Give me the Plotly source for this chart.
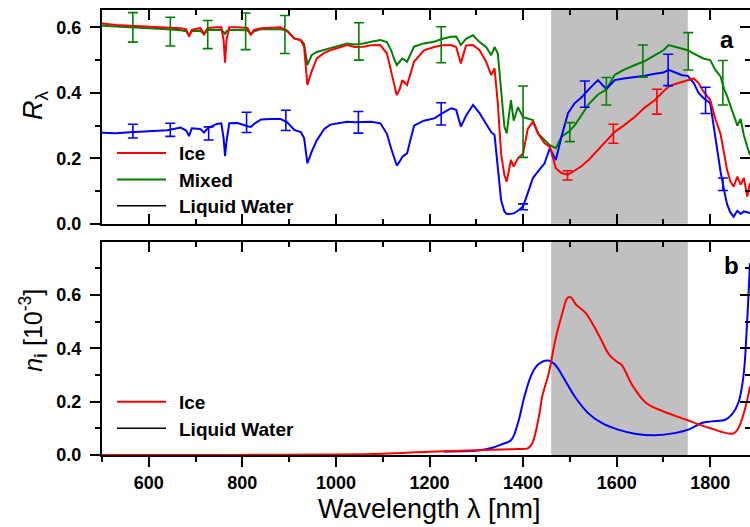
import plotly.graph_objects as go

# ---------------- Top panel (reflectance) ----------------
lam_top = [500, 530, 560, 600, 640, 668, 680, 686, 692, 710, 718, 726, 745, 755, 760, 763, 766, 772,
           790, 811, 818, 825, 840, 860, 882, 896, 911, 925, 932, 939, 948, 959, 975, 988, 1005, 1024,
           1040, 1059, 1075, 1095, 1109, 1118, 1124, 1130, 1136, 1142, 1152, 1167, 1188, 1210, 1228,
           1246, 1257, 1267, 1278, 1293, 1307, 1321, 1332, 1339, 1346, 1353, 1360, 1365, 1374, 1380,
           1389, 1400, 1410, 1421, 1432, 1446, 1457, 1470, 1482, 1496, 1510, 1524, 1540, 1560, 1578,
           1596, 1615, 1639, 1660, 1682, 1700, 1711, 1725, 1740, 1752, 1765, 1775, 1785, 1800, 1811,
           1822, 1830, 1836, 1843, 1850, 1858, 1865, 1872, 1879, 1885]
R_ice = [0.612, 0.607, 0.605, 0.602, 0.600, 0.597, 0.594, 0.572, 0.592, 0.598, 0.580, 0.598, 0.600,
         0.600, 0.560, 0.492, 0.560, 0.600, 0.600, 0.598, 0.578, 0.592, 0.597, 0.599, 0.600, 0.588,
         0.566, 0.560, 0.541, 0.424, 0.465, 0.505, 0.522, 0.530, 0.537, 0.546, 0.540, 0.541, 0.545,
         0.546, 0.520, 0.470, 0.429, 0.393, 0.410, 0.439, 0.424, 0.495, 0.530, 0.540, 0.545, 0.546,
         0.540, 0.490, 0.545, 0.546, 0.530, 0.495, 0.454, 0.475, 0.368, 0.215, 0.149, 0.129, 0.195,
         0.175, 0.200, 0.215, 0.290, 0.312, 0.276, 0.246, 0.236, 0.170, 0.155, 0.150, 0.162, 0.175,
         0.195, 0.226, 0.255, 0.281, 0.300, 0.327, 0.355, 0.378, 0.405, 0.419, 0.427, 0.434, 0.440,
         0.444, 0.430, 0.405, 0.378, 0.320, 0.275, 0.215, 0.165, 0.130, 0.114, 0.144, 0.120, 0.140,
         0.083, 0.124]
R_mixed = [0.605, 0.603, 0.600, 0.597, 0.594, 0.591, 0.588, 0.575, 0.588, 0.590, 0.578, 0.592, 0.593,
           0.593, 0.585, 0.580, 0.588, 0.592, 0.592, 0.591, 0.578, 0.588, 0.594, 0.594, 0.594, 0.590,
           0.566, 0.562, 0.550, 0.485, 0.515, 0.525, 0.532, 0.536, 0.543, 0.551, 0.548, 0.551, 0.556,
           0.561, 0.555, 0.530, 0.505, 0.485, 0.495, 0.505, 0.495, 0.541, 0.551, 0.556, 0.565, 0.571,
           0.572, 0.546, 0.565, 0.576, 0.555, 0.540, 0.515, 0.540, 0.520, 0.398, 0.297, 0.276, 0.378,
           0.315, 0.356, 0.326, 0.322, 0.317, 0.276, 0.256, 0.240, 0.231, 0.266, 0.280, 0.300, 0.330,
           0.365, 0.395, 0.410, 0.455, 0.470, 0.485, 0.497, 0.515, 0.530, 0.546, 0.540, 0.535, 0.530,
           0.520, 0.512, 0.505, 0.500, 0.470, 0.450, 0.410, 0.390, 0.360, 0.330, 0.300, 0.320, 0.270,
           0.236, 0.210]
R_water = [0.278, 0.277, 0.280, 0.282, 0.286, 0.294, 0.285, 0.268, 0.292, 0.290, 0.279, 0.292, 0.305,
           0.307, 0.260, 0.207, 0.250, 0.307, 0.308, 0.298, 0.296, 0.305, 0.319, 0.320, 0.320, 0.310,
           0.287, 0.280, 0.262, 0.185, 0.220, 0.255, 0.290, 0.303, 0.308, 0.312, 0.310, 0.311, 0.312,
           0.307, 0.275, 0.230, 0.200, 0.178, 0.190, 0.205, 0.215, 0.300, 0.315, 0.322, 0.338, 0.353,
           0.348, 0.297, 0.330, 0.363, 0.338, 0.307, 0.280, 0.271, 0.165, 0.073, 0.038, 0.030, 0.031,
           0.032, 0.040, 0.053, 0.094, 0.140, 0.160, 0.185, 0.231, 0.195, 0.266, 0.338, 0.368, 0.385,
           0.410, 0.439, 0.412, 0.439, 0.444, 0.448, 0.452, 0.458, 0.462, 0.470, 0.462, 0.454, 0.452,
           0.430, 0.400, 0.385, 0.368, 0.256, 0.160, 0.100, 0.060, 0.035, 0.022, 0.040, 0.030, 0.038,
           0.035, 0.033]

# error bars
eb_mixed_lam = [566, 646, 726, 807, 891, 1049, 1225, 1400, 1500, 1578, 1656, 1753, 1827]
eb_mixed_val = [0.600, 0.587, 0.578, 0.588, 0.578, 0.557, 0.547, 0.312, 0.280, 0.405, 0.497, 0.527, 0.431]
eb_mixed_err = [0.045, 0.044, 0.043, 0.056, 0.058, 0.057, 0.055, 0.109, 0.029, 0.042, 0.049, 0.057, 0.068]
eb_water_lam = [566, 646, 728, 809, 893, 1048, 1225, 1400, 1532, 1710, 1790, 1827]
eb_water_val = [0.283, 0.287, 0.276, 0.310, 0.316, 0.310, 0.336, 0.052, 0.396, 0.470, 0.377, 0.121]
eb_water_err = [0.021, 0.020, 0.020, 0.031, 0.031, 0.033, 0.034, 0.009, 0.040, 0.048, 0.040, 0.019]
eb_ice_lam = [1495, 1593, 1686]
eb_ice_val = [0.148, 0.275, 0.373]
eb_ice_err = [0.014, 0.029, 0.038]

# ---------------- Bottom panel (imaginary refractive index, 1e-3) ----------------
lam_ni_ice = [500, 700, 900, 1000, 1100, 1200, 1300, 1380, 1411, 1420, 1434, 1441, 1455, 1469, 1484,
              1495, 1502, 1513, 1534, 1563, 1584, 1600, 1610, 1635, 1663, 1699, 1749, 1799, 1849, 1860,
              1874, 1885]
ni_ice = [0.0, 0.0, 0.001, 0.002, 0.005, 0.012, 0.018, 0.022, 0.026, 0.045, 0.145, 0.22, 0.307, 0.432,
          0.532, 0.589, 0.591, 0.564, 0.532, 0.445, 0.376, 0.350, 0.339, 0.257, 0.195, 0.164, 0.132,
          0.101, 0.080, 0.100, 0.170, 0.257]
lam_ni_water = [1230, 1303, 1332, 1353, 1375, 1389, 1403, 1418, 1432, 1453, 1468, 1489, 1510, 1539,
                1568, 1603, 1639, 1682, 1724, 1753, 1782, 1803, 1832, 1846, 1860, 1871, 1878, 1885]
ni_water = [0.0135, 0.017, 0.026, 0.039, 0.057, 0.12, 0.22, 0.301, 0.339, 0.354, 0.339, 0.282, 0.22,
            0.157, 0.12, 0.095, 0.08, 0.074, 0.082, 0.095, 0.12, 0.126, 0.132, 0.151, 0.195, 0.295,
            0.47, 0.72]

shade_range = [1460, 1752]
x_range = [500, 1885]
xticks = [600, 800, 1000, 1200, 1400, 1600, 1800]
yticks_top = [0.0, 0.2, 0.4, 0.6]
yticks_bot = [0.0, 0.2, 0.4, 0.6]
legend_top = [("Ice", "#ff0000"), ("Mixed", "#008000"), ("Liquid Water", "black")]
legend_bot = [("Ice", "#ff0000"), ("Liquid Water", "black")]

RED, GREEN, BLUE = "#ff0000", "#008000", "#0000ff"
FONT = "Liberation Sans"

W, H = 750, 527
ML, MR, MT = 102, 0, 10
PLOT_BOTTOM = 455.3
MB = H - PLOT_BOTTOM
PW, PH = W - ML - MR, PLOT_BOTTOM - MT


def PX(x):  # pixel x -> paper
    return (x - ML) / PW


def PY(y):  # pixel y -> paper
    return 1 - (y - MT) / PH


fig = go.Figure()

# top panel lines
for y, c in [(R_mixed, GREEN), (R_water, BLUE), (R_ice, RED)]:
    fig.add_trace(go.Scatter(x=lam_top, y=y, mode="lines", line=dict(color=c, width=2),
                             showlegend=False, xaxis="x", yaxis="y"))
for lx, ly, le, c in [(eb_mixed_lam, eb_mixed_val, eb_mixed_err, GREEN),
                      (eb_water_lam, eb_water_val, eb_water_err, BLUE),
                      (eb_ice_lam, eb_ice_val, eb_ice_err, RED)]:
    fig.add_trace(go.Scatter(x=lx, y=ly, mode="markers", marker=dict(size=1, color=c),
                             error_y=dict(type="data", array=le, color=c, thickness=1.6, width=5),
                             showlegend=False, xaxis="x", yaxis="y"))

# bottom panel lines
fig.add_trace(go.Scatter(x=lam_ni_water, y=ni_water, mode="lines",
                         line=dict(color=BLUE, width=2, shape="spline"),
                         showlegend=False, xaxis="x2", yaxis="y2"))
fig.add_trace(go.Scatter(x=lam_ni_ice, y=ni_ice, mode="lines",
                         line=dict(color=RED, width=2, shape="spline"),
                         showlegend=False, xaxis="x2", yaxis="y2"))

# dummy traces to activate overlay axes
fig.add_trace(go.Scatter(x=[None], y=[None], xaxis="x3", yaxis="y2", showlegend=False))
fig.add_trace(go.Scatter(x=[None], y=[None], xaxis="x", yaxis="y3", showlegend=False))
fig.add_trace(go.Scatter(x=[None], y=[None], xaxis="x2", yaxis="y4", showlegend=False))

tickfont = dict(family=FONT, size=18, color="black", weight="bold")
line_common = dict(showline=True, linecolor="black", linewidth=2, tickcolor="black",
                   tickwidth=2, ticklen=10, showgrid=False, zeroline=False)
xcommon = dict(**line_common, range=x_range, tickvals=xticks)


def minor_x(kind):
    return dict(ticks=kind, dtick=100, tick0=0, ticklen=5, tickwidth=2, tickcolor="black")


top_dom = [PY(224), 1.0]
bot_dom = [0.0, PY(241.7)]

fig.update_layout(
    width=W, height=H,
    margin=dict(l=ML, r=MR, t=MT, b=MB, autoexpand=False),
    plot_bgcolor="white", paper_bgcolor="white",
    font=dict(family=FONT, color="black"),
    showlegend=False,
    xaxis=dict(**xcommon, domain=[0, 1], anchor="y", ticks="inside", mirror="ticks",
               showticklabels=False, minor=minor_x("inside")),
    yaxis=dict(**line_common, mirror=True, ticks="outside", domain=top_dom, anchor="x",
               range=[0, 0.653], tickvals=yticks_top, tickformat=".1f", tickfont=tickfont,
               ticklabelstandoff=5,
               minor=dict(ticks="outside", tickvals=[0.1, 0.3, 0.5], ticklen=5, tickwidth=2,
                          tickcolor="black")),
    yaxis3=dict(**line_common, overlaying="y", anchor="x", side="right", ticks="inside",
                range=[0, 0.653], tickvals=yticks_top, showticklabels=False,
                minor=dict(ticks="inside", tickvals=[0.1, 0.3, 0.5], ticklen=5, tickwidth=2,
                           tickcolor="black")),
    xaxis2=dict(**xcommon, domain=[0, 1], anchor="y2", ticks="outside", mirror=False,
                tickfont=tickfont, minor=minor_x("outside")),
    xaxis3=dict(**xcommon, overlaying="x2", anchor="y2", side="top", ticks="inside",
                showticklabels=False, minor=minor_x("inside")),
    yaxis2=dict(**line_common, mirror=True, ticks="outside", domain=bot_dom, anchor="x2",
                range=[0, 0.80], tickvals=yticks_bot, tickformat=".1f", tickfont=tickfont,
                ticklabelstandoff=5,
                minor=dict(ticks="outside", tickvals=[0.1, 0.3, 0.5, 0.7], ticklen=5, tickwidth=2,
                           tickcolor="black")),
    yaxis4=dict(**line_common, overlaying="y2", anchor="x2", side="right", ticks="inside",
                range=[0, 0.80], tickvals=yticks_bot, showticklabels=False,
                minor=dict(ticks="inside", tickvals=[0.1, 0.3, 0.5, 0.7], ticklen=5, tickwidth=2,
                           tickcolor="black")),
)

# shaded bands
for yref, xref in [("y domain", "x"), ("y2 domain", "x2")]:
    fig.add_shape(type="rect", xref=xref, yref=yref, x0=shade_range[0], x1=shade_range[1],
                  y0=0, y1=1, fillcolor="#c0c0c0", line=dict(width=0), layer="below")


def ann(text, x, y, size, angle=0, xanchor="center"):
    fig.add_annotation(text=text, x=PX(x), y=PY(y), xref="paper", yref="paper",
                       showarrow=False, xanchor=xanchor, yanchor="middle", textangle=angle,
                       font=dict(family=FONT, color="black", size=size))


# manual legends (line sample + bold text)
def legend(items, y0, dy):
    for i, (name, c) in enumerate(items):
        yy = y0 + i * dy
        fig.add_shape(type="line", xref="paper", yref="paper", x0=PX(117), x1=PX(166),
                      y0=PY(yy), y1=PY(yy), line=dict(color=c, width=2 if c != "black" else 1.5))
        ann("<b>%s</b>" % name, 177, yy + 1, 19, xanchor="left")


legend(legend_top, 153, 26.5)
legend(legend_bot, 402, 26.5)

ann("<i>R</i><sub>λ</sub>", 35, 105, 27, angle=-90)
ann("<i>n</i><sub><b>i</b></sub> [10<sup>-3</sup>]", 33, 331, 25, angle=-90)
ann("Wavelength λ [nm]", 429, 509, 27)
ann("<b>a</b>", 727, 40, 24)
ann("<b>b</b>", 731, 266, 24)

# remove the default page margin so the 750x527 figure fills the window exactly
fig.write_html("out.html", config={"displayModeBar": False},
               post_script="document.body.style.margin='0px';document.body.style.overflow='hidden';")
